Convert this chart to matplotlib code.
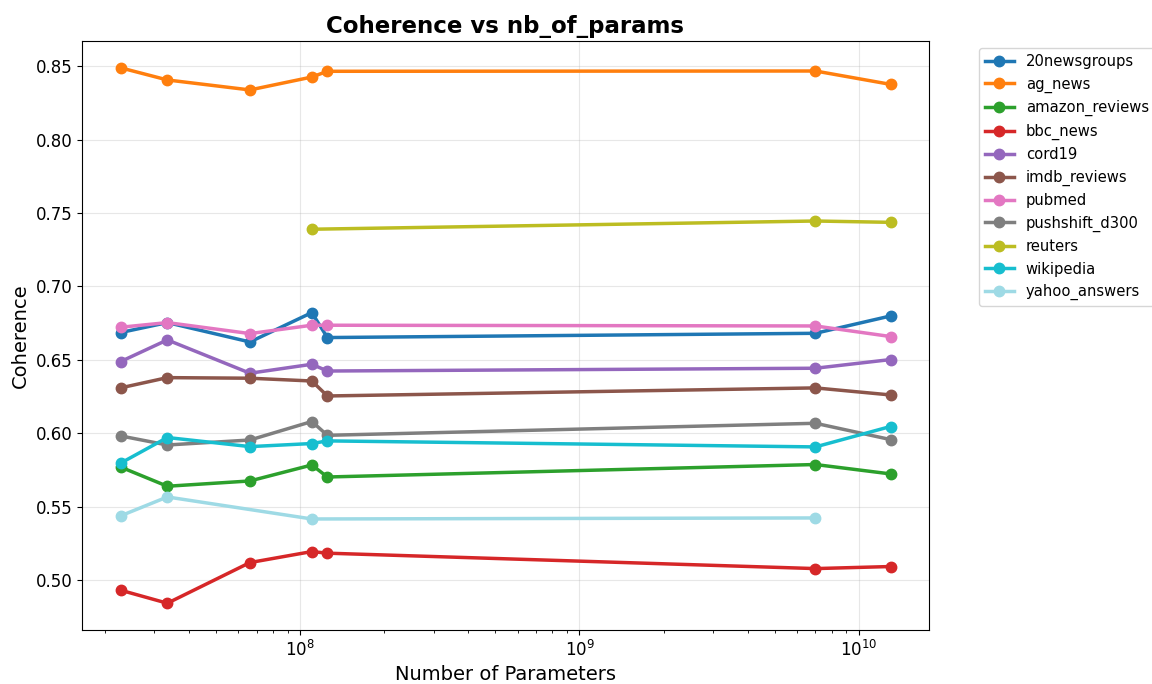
import numpy as np
import matplotlib
matplotlib.use("Agg")
import matplotlib.pyplot as plt

# model sizes (number of parameters)
params = [22.7e6, 33.4e6, 66e6, 110e6, 125e6, 7e9, 13e9]

# coherence per dataset, None where the model was not run
newsgroups20 = [0.6686, 0.6754, 0.6622, 0.6822, 0.6652, 0.6681, 0.6799]
ag_news = [0.8490, 0.8407, 0.8339, 0.8427, 0.8466, 0.8468, 0.8377]
amazon_reviews = [0.5770, 0.5639, 0.5675, 0.5784, 0.5702, 0.5787, 0.5723]
bbc_news = [0.4931, 0.4842, 0.5119, 0.5194, 0.5183, 0.5078, 0.5092]
cord19 = [0.6488, 0.6636, 0.6409, 0.6470, 0.6424, 0.6443, 0.6502]
imdb_reviews = [0.6309, 0.6379, 0.6375, 0.6356, 0.6254, 0.6309, 0.6261]
pubmed = [0.6722, 0.6754, 0.6679, 0.6736, 0.6736, 0.6731, 0.6659]
pushshift_d300 = [0.5982, 0.5920, 0.5954, 0.6080, 0.5986, 0.6068, 0.5957]
reuters = [None, None, None, 0.7390, None, 0.7446, 0.7437]
wikipedia = [0.5796, 0.5971, 0.5909, 0.5930, 0.5948, 0.5907, 0.6046]
yahoo_answers = [0.5437, 0.5566, None, 0.5416, None, 0.5423, None]

series = [
    ("20newsgroups", newsgroups20, "#1f77b4"),
    ("ag_news", ag_news, "#ff7f0e"),
    ("amazon_reviews", amazon_reviews, "#2ca02c"),
    ("bbc_news", bbc_news, "#d62728"),
    ("cord19", cord19, "#9467bd"),
    ("imdb_reviews", imdb_reviews, "#8c564b"),
    ("pubmed", pubmed, "#e377c2"),
    ("pushshift_d300", pushshift_d300, "#7f7f7f"),
    ("reuters", reuters, "#bcbd22"),
    ("wikipedia", wikipedia, "#17becf"),
    ("yahoo_answers", yahoo_answers, "#9edae5"),
]

fig = plt.figure(figsize=(11.52, 6.84), dpi=100)
ax = fig.add_axes([82 / 1152, 1 - 630 / 684, 847 / 1152, 589 / 684])

for name, vals, color in series:
    xs = [p for p, v in zip(params, vals) if v is not None]
    ys = [v for v in vals if v is not None]
    ax.plot(xs, ys, marker="o", color=color, label=name, linewidth=2.5, markersize=7.5)

ax.set_xscale("log")
ax.set_title("Coherence vs nb_of_params", fontsize=16.5, fontweight="bold")
ax.set_xlabel("Number of Parameters", fontsize=14)
ax.set_ylabel("Coherence", fontsize=14)
ax.tick_params(labelsize=12)
ax.grid(True, alpha=0.3)
ax.legend(bbox_to_anchor=(1.05, 1), loc="upper left", fontsize=10.6)

fig.savefig("out.png", dpi=100)
